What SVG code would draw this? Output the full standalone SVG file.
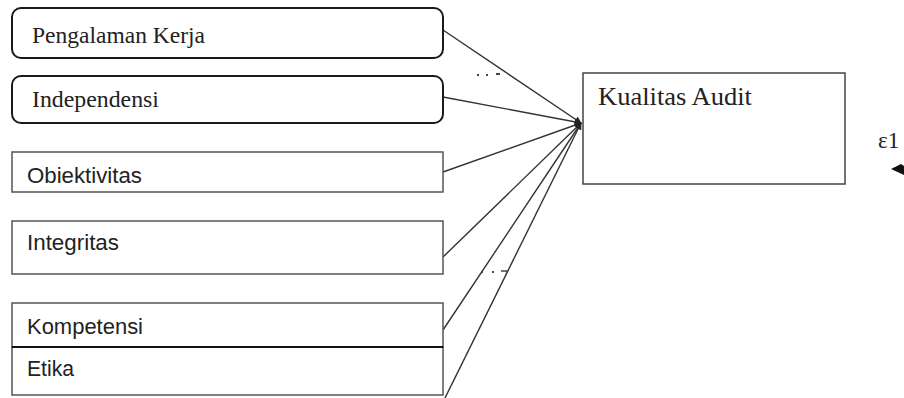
<svg xmlns="http://www.w3.org/2000/svg" width="904" height="398" viewBox="0 0 904 398">
  <style>
    .rbox { fill: #fff; stroke: #1a1a1a; stroke-width: 2; }
    .box { fill: #fff; stroke: #555; stroke-width: 1.5; }
    .serif { font-family: "Liberation Serif", "Times New Roman", serif; font-size: 24px; fill: #222; }
    .sans { font-family: "Liberation Sans", Arial, sans-serif; font-size: 22px; fill: #222; }
    .conn { stroke: #333; stroke-width: 1.4; fill: none; marker-end: url(#arr); }
  </style>
  <defs>
    <marker id="arr" viewBox="0 0 10 10" refX="9" refY="5" markerWidth="7" markerHeight="7" markerUnits="userSpaceOnUse" orient="auto">
      <path d="M0,0 L10,5 L0,10 z" fill="#222"/>
    </marker>
  </defs>
  <rect width="904" height="398" fill="#fff"/>

  <g id="connectors">
    <line class="conn" x1="443" y1="30" x2="581" y2="123"/>
    <line class="conn" x1="443" y1="97" x2="581" y2="123"/>
    <line class="conn" x1="443" y1="172" x2="581" y2="123"/>
    <line class="conn" x1="443" y1="257" x2="581" y2="123"/>
    <line class="conn" x1="443" y1="330" x2="581" y2="123"/>
    <line class="conn" x1="444" y1="400" x2="581" y2="123"/>
  </g>

  <g id="artifacts" fill="#444">
    <rect x="477" y="74" width="2" height="2"/>
    <rect x="486" y="74" width="2" height="2"/>
    <rect x="496" y="73" width="4" height="2"/>
    <rect x="481" y="271" width="2" height="2"/>
    <rect x="492" y="271" width="2" height="2"/>
    <path d="M501,271 L507,271 L506,275" stroke="#444" stroke-width="1.3" fill="none"/>
  </g>

  <g id="node-pengalaman">
    <rect class="rbox" x="12" y="8" width="431" height="50" rx="9"/>
    <text class="serif" x="32" y="43" textLength="173" lengthAdjust="spacingAndGlyphs">Pengalaman Kerja</text>
  </g>
  <g id="node-independensi">
    <rect class="rbox" x="12" y="76" width="431" height="47" rx="9"/>
    <text class="serif" x="32" y="107" textLength="127" lengthAdjust="spacingAndGlyphs">Independensi</text>
  </g>
  <g id="node-obiektivitas">
    <rect class="box" x="12" y="152" width="431" height="40"/>
    <text class="sans" x="27" y="183" textLength="115" lengthAdjust="spacingAndGlyphs">Obiektivitas</text>
  </g>
  <g id="node-integritas">
    <rect class="box" x="12" y="221" width="431" height="53"/>
    <text class="sans" x="27" y="250" textLength="92" lengthAdjust="spacingAndGlyphs">Integritas</text>
  </g>
  <g id="node-kompetensi">
    <rect class="box" x="12" y="303" width="431" height="44"/>
    <text class="sans" x="27" y="334" textLength="116" lengthAdjust="spacingAndGlyphs">Kompetensi</text>
  </g>
  <g id="node-etika">
    <rect class="box" x="12" y="347" width="431" height="48"/>
    <line x1="12" y1="347" x2="443" y2="347" stroke="#111" stroke-width="2"/>
    <text class="sans" x="27" y="376" textLength="47" lengthAdjust="spacingAndGlyphs">Etika</text>
  </g>
  <g id="node-kualitas">
    <rect class="box" x="583" y="73" width="262" height="111" style="stroke:#444"/>
    <text class="serif" x="598" y="105" style="font-size:25px" textLength="154" lengthAdjust="spacingAndGlyphs">Kualitas Audit</text>
  </g>
  <g id="node-e1">
    <text class="serif" x="878" y="148" style="font-size:23px">ε1</text>
    <polygon points="891,169 901,164 904,166 904,175" fill="#111"/>
  </g>
</svg>
